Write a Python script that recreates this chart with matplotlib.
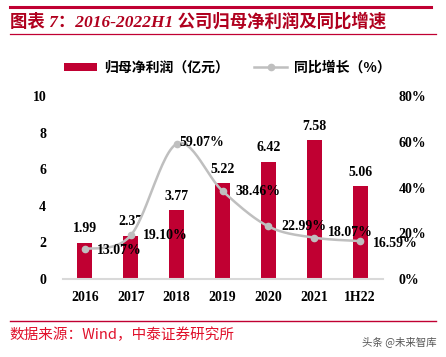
import numpy as np
import matplotlib.pyplot as plt
from matplotlib.lines import Line2D
from matplotlib.patches import Patch

plt.rcParams['font.family'] = ['Liberation Serif', 'Noto Sans CJK SC']

# 数据
anos = ['2016', '2017', '2018', '2019', '2020', '2021', '1H22']
lucro = [1.99, 2.37, 3.77, 5.22, 6.42, 7.58, 5.06]
crescimento = [13.07, 19.10, 59.07, 38.46, 22.99, 18.07, 16.59]
# deslocamento dos rótulos de % (pontos)
desloc_pct = [(9, -1), (9, 0), (2, 1), (9, 0), (9, 0), (10, 4), (9, -2)]

vermelho = '#C00032'
cinza = '#BFBFBF'
fonte_cjk = ['Noto Sans CJK SC', 'Liberation Serif']


def curva_suave(xs, ys, n=30):
    # curva tipo Excel (Bezier com pontos de controle Catmull-Rom)
    pts = np.column_stack([xs, ys]).astype(float)
    pts_ext = np.vstack([pts[0], pts, pts[-1]])
    saida = []
    t = np.linspace(0, 1, n)[:, None]
    for i in range(1, len(pts_ext) - 2):
        p0, p1, p2, p3 = pts_ext[i - 1], pts_ext[i], pts_ext[i + 1], pts_ext[i + 2]
        c1 = p1 + (p2 - p0) / 6
        c2 = p2 - (p3 - p1) / 6
        seg = ((1 - t) ** 3) * p1 + 3 * ((1 - t) ** 2) * t * c1 + 3 * (1 - t) * t ** 2 * c2 + t ** 3 * p2
        saida.append(seg)
    saida = np.vstack(saida)
    return saida[:, 0], saida[:, 1]


fig = plt.figure(figsize=(4.46, 3.57), dpi=100)
ax = fig.add_axes([0.141, 0.2185, 0.718, 0.5125])
x = np.arange(len(anos))

ax.bar(x, lucro, width=0.33, color=vermelho, zorder=2)
for xi, v in zip(x, lucro):
    ax.annotate(f'{v:.2f}', (xi, v), xytext=(0, 10), textcoords='offset points',
                ha='center', va='center', fontsize=10, fontweight='bold')

ax.set_ylim(0, 10)
ax.set_xlim(-0.48, 6.5)
ax.set_yticks([0, 2, 4, 6, 8, 10])
ax.set_xticks(x)
ax.set_xticklabels(anos)
for s in ['top', 'right', 'left']:
    ax.spines[s].set_visible(False)
ax.spines['bottom'].set_color('#D9D9D9')
ax.spines['bottom'].set_linewidth(1.5)
ax.tick_params(length=0, labelsize=10, pad=9)
ax.tick_params(axis='y', pad=12)
for lbl in ax.get_xticklabels() + ax.get_yticklabels():
    lbl.set_fontweight('bold')

ax2 = ax.twinx()
ax2.set_ylim(0, 80)
ax2.set_yticks([0, 20, 40, 60, 80])
ax2.set_yticklabels([f'{v}%' for v in [0, 20, 40, 60, 80]])
for s in ax2.spines.values():
    s.set_visible(False)
ax2.tick_params(length=0, labelsize=10, pad=11)
for lbl in ax2.get_yticklabels():
    lbl.set_fontweight('bold')

cx, cy = curva_suave(x, crescimento)
ax2.plot(cx, cy, color=cinza, linewidth=1.8, zorder=3)
ax2.plot(x, crescimento, 'o', color=cinza, markersize=4.5, zorder=4)
for xi, v, d in zip(x, crescimento, desloc_pct):
    ax2.annotate(f'{v:.2f}%', (xi, v), xytext=d, textcoords='offset points',
                 ha='left', va='center', fontsize=10, fontweight='bold', zorder=5)

# legenda
handles = [Patch(facecolor=vermelho, edgecolor='none'),
           Line2D([0], [0], color=cinza, linewidth=1.8, marker='o', markersize=4.5)]
leg = fig.legend(handles, ['归母净利润（亿元）', '同比增长（%）'], loc='center',
                 bbox_to_anchor=(0.51, 0.81), ncol=2, frameon=False,
                 prop={'family': fonte_cjk, 'weight': 'bold', 'size': 10},
                 handlelength=2.4, handleheight=0.6, columnspacing=1.8, handletextpad=0.5)

# título e linhas
fig.add_artist(Line2D([0.022, 0.966], [0.980, 0.980], color=vermelho, linewidth=2.2))
fig.text(0.022, 0.938, '图表 7：2016-2022H1 公司归母净利润及同比增速', color='#B0001E',
         fontsize=12.5, fontweight='bold', style='italic', va='center', ha='left',
         family=['Liberation Serif', 'Noto Sans CJK SC'])
fig.add_artist(Line2D([0.022, 0.978], [0.905, 0.905], color=vermelho, linewidth=0.9))

fig.add_artist(Line2D([0.022, 0.978], [0.101, 0.101], color=vermelho, linewidth=1.0))
fig.text(0.022, 0.062, '数据来源：Wind，中泰证券研究所', color='#E0102A', fontsize=10.5,
         va='center', ha='left', family=fonte_cjk)
fig.text(0.978, 0.042, '头条 @未来智库', color='#555555', fontsize=7.5,
         va='center', ha='right', family=['Noto Sans CJK SC', 'DejaVu Sans'])

fig.savefig('out.png', dpi=100)
